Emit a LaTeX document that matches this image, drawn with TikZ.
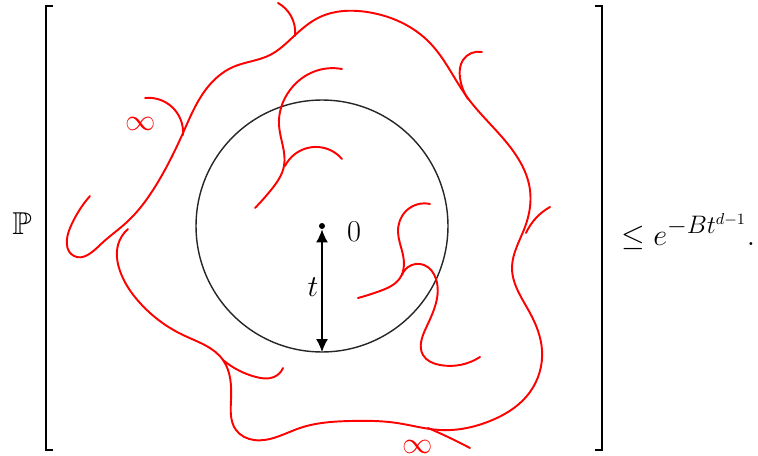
\documentclass[tikz,border=0pt]{standalone}
\usepackage{amsmath}
\usepackage{amssymb}
\usepackage{tikz}
\usetikzlibrary{arrows.meta,hobby}

\begin{document}
\begin{tikzpicture}[
      x=0.02cm, y=-0.02cm,
      font=\fontsize{17}{20}\selectfont,
      strand/.style={red, line width=1.1pt, line cap=round, use Hobby shortcut},
      brk/.style={line width=1.1pt},
      ball/.style={line width=0.8pt, black!85},
      radius arrow/.style={line width=0.7pt,
        {Latex[length=2.6mm,width=2.4mm]}-{Latex[length=2.6mm,width=2.4mm]}},
    ]
    \useasboundingbox (0,0) rectangle (758,456);
    % probability and brackets
    \node[font=\fontsize{18}{20}\selectfont] (prob) at (22,224) {$\mathbb{P}$};
    \draw[brk] (53,6) -- (46,6) -- (46,450) -- (53,450);
    \draw[brk] (595,6) -- (602,6) -- (602,450) -- (595,450);
    % ball of radius t around the origin
    \coordinate (O) at (322,226);
    \coordinate (S) at (322,352);
    \draw[ball] (O) circle[radius=2.52cm];
    \fill (O) circle[radius=0.06cm];
    \draw[radius arrow, shorten <=0.07cm] (O) -- (S);
    \node (zero) at (354,232) {$0$};
    \node (tlab) at (313,287) {$t$};
    % infinite cluster winding around the ball
    \draw[strand] (90,196) .. (70,228) .. (74,256) .. (100,245) .. (127,222)
      .. (158,182) .. (183,133) .. (207,88) .. (233,67) .. (270,55)
      .. (293,37) .. (320,17) .. (367,12) .. (430,43) .. (467,97)
      .. (507,143) .. (530,190) .. (525,227) .. (512,268) .. (530,313)
      .. (542,350) .. (530,392) .. (490,421) .. (440,430) .. (397,423)
      .. (350,421) .. (300,428) .. (254,440) .. (236,430) .. (231,400)
      .. (223,360) .. (183,335) .. (140,303) .. (120,271) .. (118,245)
      .. (128,229);
    % side branches
    \draw[strand] (145,98) .. (172,107) .. (183,135);
    \draw[strand] (278,3) .. (291,16) .. (295,36);
    \draw[strand] (482,52) .. (463,60) .. (460,78) .. (468,99);
    \draw[strand] (550,207) .. (536,218) .. (526,233);
    \draw[strand] (283,368) .. (274,377) .. (256,377) .. (223,360);
    \draw[strand] (470,448) .. (448,437) .. (428,428);
    % finite pieces inside the ball
    \draw[strand] (342,69) .. (313,72) .. (290,90) .. (279,125) .. (284,166)
      .. (271,190) .. (255,208);
    \draw[strand] (342,159) .. (318,147) .. (295,154) .. (285,166);
    \draw[strand] (430,204) .. (406,211) .. (398,232) .. (403,255)
      .. (400,278) .. (380,291) .. (358,298);
    \draw[strand] (402,275) .. (424,265) .. (436,279) .. (426,328)
      .. (423,355) .. (440,365) .. (480,357);
    % infinity marks
    \node[red] (inftop) at (141,124) {$\infty$};
    \node[red] (infbot) at (418,447) {$\infty$};
    % right-hand side of the bound
    \node[anchor=base west, inner sep=0pt, font=\fontsize{19}{22}\selectfont]
      (rhs) at (621,245) {$\leq e^{-Bt^{d-1}}.$};
  \end{tikzpicture}
\end{document}
